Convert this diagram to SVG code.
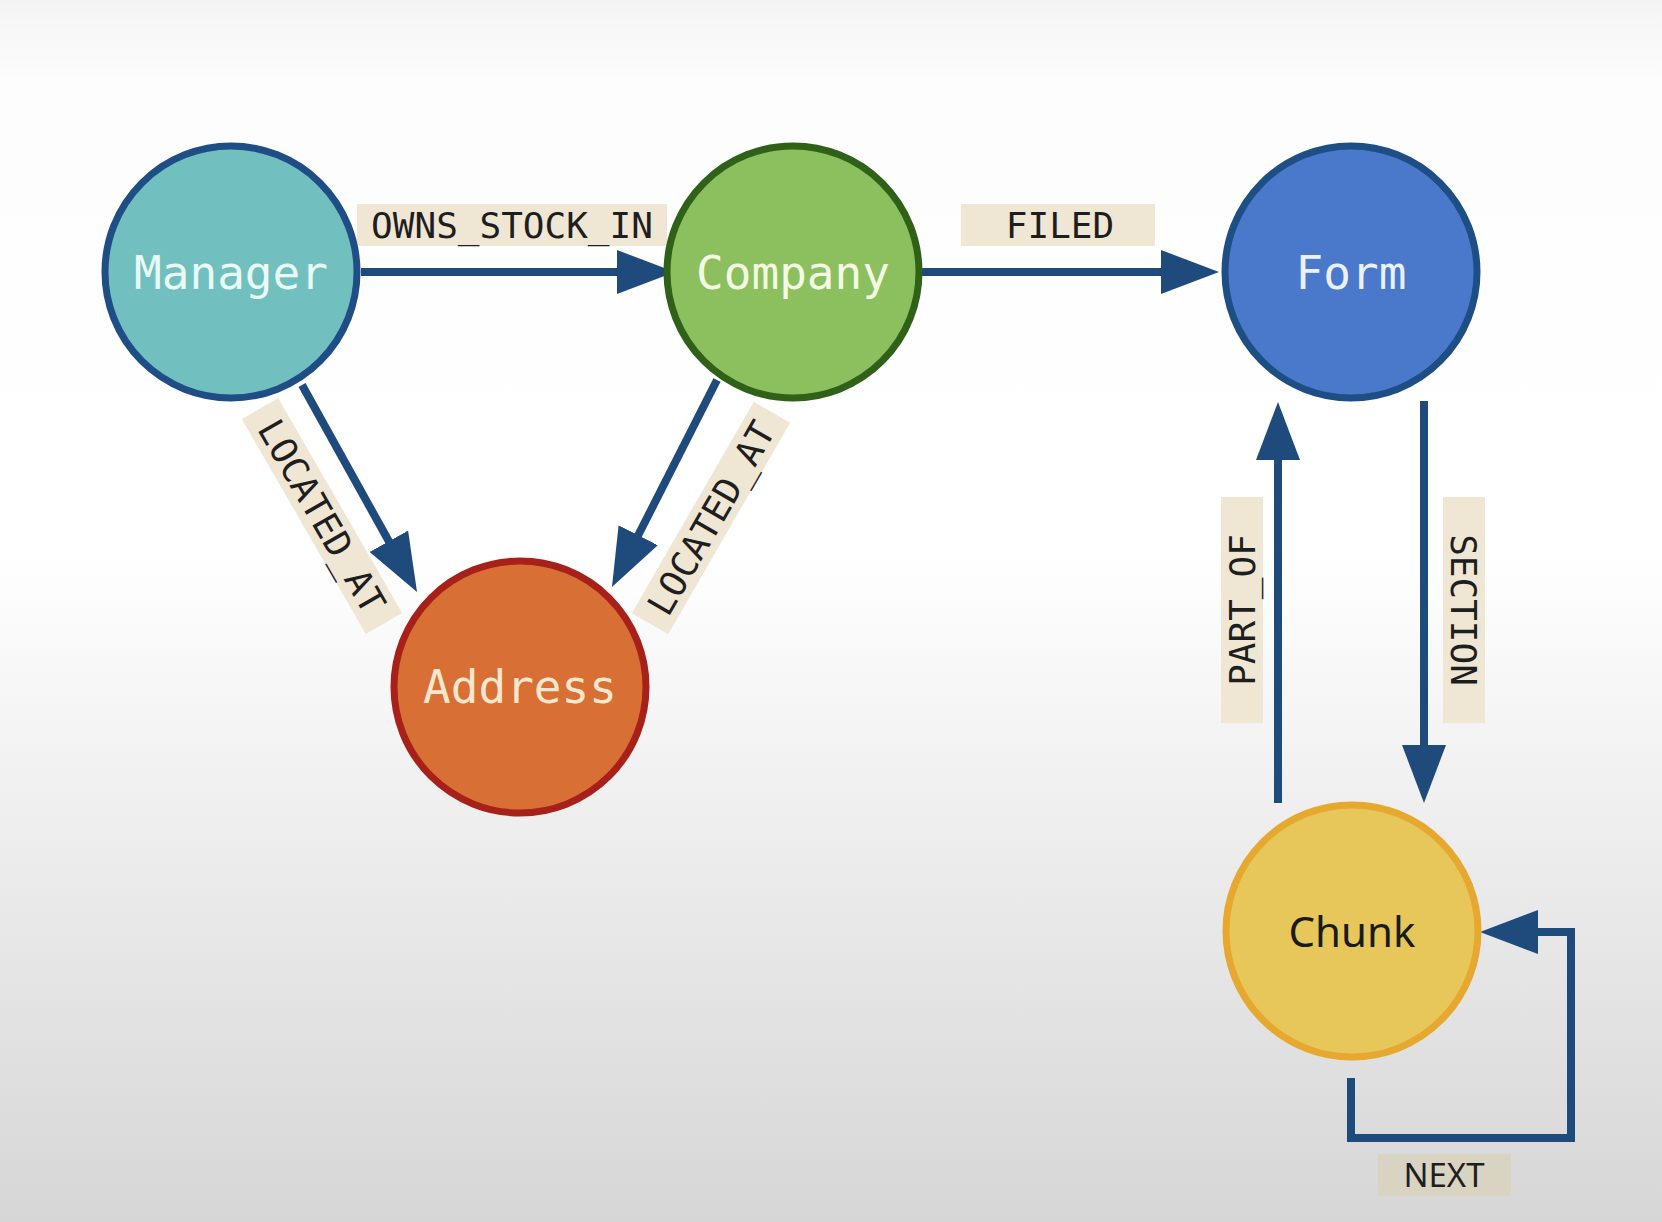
<svg xmlns="http://www.w3.org/2000/svg" width="1662" height="1222" viewBox="0 0 1662 1222">
<defs>
<linearGradient id="bg" x1="0" y1="0" x2="0" y2="1">
<stop offset="0" stop-color="#f4f4f4"/>
<stop offset="0.07" stop-color="#fdfdfd"/>
<stop offset="0.45" stop-color="#ffffff"/>
<stop offset="0.7" stop-color="#ececec"/>
<stop offset="1" stop-color="#d6d6d6"/>
</linearGradient>
<marker id="arr" viewBox="0 0 58 44" refX="4" refY="22" markerWidth="58" markerHeight="44" markerUnits="userSpaceOnUse" orient="auto">
<path d="M0,0 L58,22 L0,44 z" fill="#1f4a7c"/>
</marker>
</defs>
<style>
.edge{fill:none;stroke:#1f4a7c;stroke-width:8;stroke-linejoin:miter;marker-end:url(#arr)}
.lbl{fill:#efe7d4}
.lt{font-family:"DejaVu Sans Mono","Liberation Mono",monospace;font-size:36px;fill:#1e1e1e;text-anchor:middle}
.nt{font-family:"DejaVu Sans Mono","Liberation Mono",monospace;font-size:46px;text-anchor:middle}
.node{stroke-width:7}
</style>
<rect width="1662" height="1222" fill="url(#bg)"/>
<g id="connectors">
<path class="edge" d="M361,272 L621,272"/>
<path class="edge" d="M922,272 L1165,272"/>
<path class="edge" d="M302,385 L390.8,544.8"/>
<path class="edge" d="M717,380 L636.4,538.8"/>
<path class="edge" d="M1278,803 L1278,456"/>
<path class="edge" d="M1424,401 L1424,749"/>
<path class="edge" d="M1351,1078 V1138 H1571 V932 H1534"/>
<g id="label-owns">
<rect class="lbl" x="357" y="204" width="310" height="42"/>
<text class="lt" x="512" y="238">OWNS_STOCK_IN</text>
</g>
<g id="label-filed">
<rect class="lbl" x="961" y="204" width="194" height="42"/>
<text class="lt" x="1060" y="238">FILED</text>
</g>
<g id="label-loc1" transform="translate(322,516) rotate(60)">
<rect class="lbl" x="-124" y="-21" width="248" height="42"/>
<text class="lt" x="0" y="13">LOCATED_AT</text>
</g>
<g id="label-loc2" transform="translate(711,518) rotate(-60)">
<rect class="lbl" x="-122" y="-21" width="244" height="42"/>
<text class="lt" x="0" y="13">LOCATED_AT</text>
</g>
<g id="label-partof" transform="translate(1242,610) rotate(-90)">
<rect class="lbl" x="-113" y="-21" width="226" height="42"/>
<text class="lt" x="0" y="13">PART_OF</text>
</g>
<g id="label-section" transform="translate(1464,610) rotate(90)">
<rect class="lbl" x="-113" y="-21" width="226" height="42"/>
<text class="lt" x="0" y="13">SECTION</text>
</g>
<g id="label-next">
<rect x="1378" y="1154" width="133" height="42" fill="#d9d3c1"/>
<text x="1444" y="1187" font-family="'Noto Sans','Open Sans',sans-serif" font-size="33" fill="#1e1e1e" text-anchor="middle">NEXT</text>
</g>
</g>
<g id="manager">
<circle class="node" cx="231" cy="272" r="126" fill="#72bfbf" stroke="#1f4e87"/>
<text class="nt" x="231" y="289" fill="#e8fbf4">Manager</text>
</g>
<g id="company">
<circle class="node" cx="793" cy="272" r="126" fill="#8cbf5e" stroke="#2f6118"/>
<text class="nt" x="793" y="289" fill="#f3fbe4">Company</text>
</g>
<g id="form">
<circle class="node" cx="1351" cy="272" r="126" fill="#4a79cc" stroke="#1d4f85"/>
<text class="nt" x="1351" y="289" fill="#eaf1ff">Form</text>
</g>
<g id="address">
<circle class="node" cx="520" cy="687" r="126" fill="#d86f35" stroke="#a8201a"/>
<text class="nt" x="520" y="703" fill="#f8e7cf">Address</text>
</g>
<g id="chunk">
<circle class="node" cx="1352" cy="931" r="126" fill="#e8c75a" stroke="#e6a82e"/>
<text x="1352" y="947" font-family="'Noto Sans','Open Sans',sans-serif" font-size="42" fill="#1a1a1a" text-anchor="middle">Chunk</text>
</g>
</svg>
